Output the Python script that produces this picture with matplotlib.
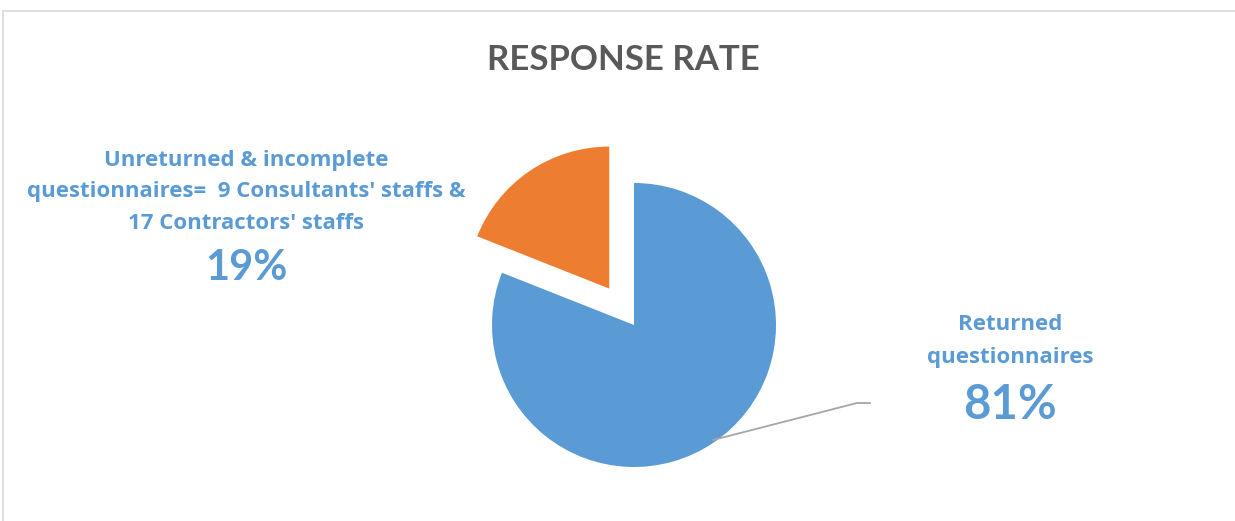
import matplotlib
matplotlib.use("Agg")
import matplotlib.pyplot as plt
from matplotlib.patches import Rectangle

plt.rcParams['font.family'] = ['Lato', 'DejaVu Sans']

# data
labels = ["Returned\nquestionnaires",
          "Unreturned & incomplete\nquestionnaires=  9 Consultants' staffs &\n17 Contractors' staffs"]
values = [81, 19]
pct_text = ["81%", "19%"]
colors = ["#5B9BD5", "#ED7D31"]
explode_frac = [0, 0.31]

W, H = 1235, 521
R = 142
fig = plt.figure(figsize=(W / 100, H / 100), dpi=100)
ax = fig.add_axes([0, 0, 1, 1])

# chart frame
fig.patches.append(Rectangle((3 / W, -0.1), 1.1, (H - 11) / H + 0.1, transform=fig.transFigure,
                             fill=False, edgecolor="#D9D9D9", lw=1.2))

ax.pie(values, colors=colors, explode=[e * R for e in explode_frac], startangle=90,
       counterclock=False, center=(634, H - 325), radius=R, frame=True,
       wedgeprops=dict(linewidth=0))
ax.set_xlim(0, W)
ax.set_ylim(0, H)
ax.set_aspect('equal')
ax.axis('off')

ax.text(623, H - 60, "RESPONSE RATE", ha='center', va='center', fontsize=25,
        fontweight='bold', color="#595959")

lab_col = "#5B9BD5"
lab_font = ['Open Sans', 'DejaVu Sans']
# left label (unreturned)
ax.text(246, H - 192, labels[1], ha='center', va='center', fontsize=16,
        fontweight='bold', color=lab_col, linespacing=1.68, family=lab_font)
ax.text(246, H - 268, pct_text[1], ha='center', va='center', fontsize=30,
        fontweight='bold', color=lab_col)

# right label (returned)
ax.text(1010, H - 341, labels[0], ha='center', va='center', fontsize=16,
        fontweight='bold', color=lab_col, linespacing=1.7, family=lab_font)
ax.text(1010, H - 405, pct_text[0], ha='center', va='center', fontsize=34,
        fontweight='bold', color=lab_col)

# leader line
ax.plot([713, 857, 870], [H - 440, H - 403, H - 403], color="#A6A6A6", lw=1.3)

fig.savefig("out.png", dpi=100, facecolor="white")
